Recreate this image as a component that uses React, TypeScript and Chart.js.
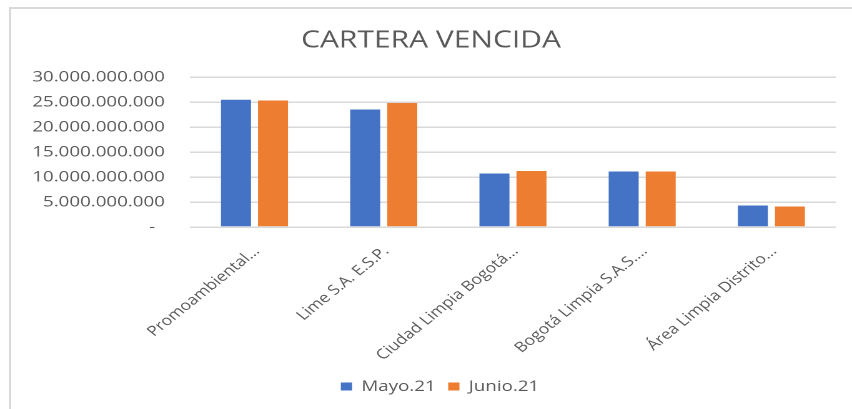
import React, { useEffect, useRef } from 'react';
import { Chart, registerables } from 'chart.js';

Chart.register(...registerables);

const chartTitle = 'CARTERA VENCIDA';
const categories = [
  'Promoambiental...',
  'Lime S.A. E.S.P.',
  'Ciudad Limpia Bogotá...',
  'Bogotá Limpia S.A.S....',
  'Área Limpia Distrito...',
];
const seriesNames = ['Mayo.21', 'Junio.21'];
const mayoValues = [25450000000, 23500000000, 10700000000, 11100000000, 4300000000];
const junioValues = [25300000000, 24800000000, 11200000000, 11100000000, 4100000000];
const yMin = 0;
const yMax = 30000000000;
const yStep = 5000000000;

const PAGE_W = 852;
const PAGE_H = 409;
const LOGICAL_W = 682;
const STRETCH = PAGE_W / LOGICAL_W;
const FONT = "'Open Sans', 'DejaVu Sans', sans-serif";
const TEXT = '#595959';

function formatTick(v: number): string {
  if (v === 0) return '-  ';
  return String(Math.round(v)).replace(/\B(?=(\d{3})+(?!\d))/g, '.');
}

const shiftBlocks = {
  id: 'shiftBlocks',
  afterLayout(chart: any) {
    const t = chart.titleBlock;
    if (t) {
      t.left += 10.4;
      t.right += 10.4;
    }
    const l = chart.legend;
    if (l) {
      l.left += 17.6;
      l.right += 17.6;
      l.top += 1.5;
      l.bottom += 1.5;
      if (l.adjustHitBoxes) l.adjustHitBoxes();
    }
  },
};

export default function App() {
  const ref = useRef<HTMLCanvasElement | null>(null);

  useEffect(() => {
    const canvas = ref.current;
    if (!canvas) return;
    const chart = new Chart(canvas, {
      type: 'bar',
      data: {
        labels: categories,
        datasets: [
          {
            label: seriesNames[0],
            data: mayoValues,
            backgroundColor: '#4472C4',
            categoryPercentage: 0.573,
            barPercentage: 0.81,
          },
          {
            label: seriesNames[1],
            data: junioValues,
            backgroundColor: '#ED7D31',
            categoryPercentage: 0.573,
            barPercentage: 0.81,
          },
        ],
      },
      options: {
        responsive: false,
        animation: false,
        devicePixelRatio: 2,
        layout: { padding: { left: 0, right: 12.8, top: 0, bottom: 6.5 } },
        plugins: {
          title: {
            display: true,
            text: chartTitle,
            color: TEXT,
            font: { family: FONT, size: 24, weight: 'normal' },
            padding: { top: 26.5, bottom: 21.7 },
          },
          legend: {
            position: 'bottom',
            labels: {
              color: TEXT,
              font: { family: FONT, size: 15 },
              boxWidth: 9,
              boxHeight: 8,
              padding: 10,
            },
          },
          tooltip: { enabled: false },
        },
        scales: {
          x: {
            grid: { display: false },
            border: { display: false },
            ticks: {
              color: TEXT,
              font: { family: FONT, size: 14 },
              minRotation: 45,
              maxRotation: 45,
              autoSkip: false,
              padding: 8,
              labelOffset: 2,
            },
            afterFit: (scale: any) => {
              scale.height = 140.5;
            },
          },
          y: {
            min: yMin,
            max: yMax,
            grid: { color: '#d9d9d9', lineWidth: 1.5, drawTicks: false },
            border: { display: false },
            ticks: {
              stepSize: yStep,
              color: TEXT,
              font: { family: FONT, size: 15 },
              padding: 20,
              callback: (v: any) => formatTick(Number(v)),
            },
            afterFit: (scale: any) => {
              scale.width = 152;
            },
          },
        },
      },
      plugins: [shiftBlocks],
    });
    return () => chart.destroy();
  }, []);

  return (
    <div
      style={{
        position: 'fixed',
        left: 0,
        top: 0,
        width: PAGE_W,
        height: PAGE_H,
        overflow: 'hidden',
        background: '#ffffff',
      }}
    >
      <canvas
        ref={ref}
        width={LOGICAL_W}
        height={PAGE_H}
        style={{
          display: 'block',
          width: LOGICAL_W,
          height: PAGE_H,
          transform: `scaleX(${STRETCH})`,
          transformOrigin: '0 0',
        }}
      />
      <div
        style={{
          position: 'absolute',
          left: 9,
          top: 7,
          width: PAGE_W,
          height: PAGE_H,
          borderTop: '2px solid #d9d9d9',
          borderLeft: '2px solid #d9d9d9',
          pointerEvents: 'none',
        }}
      />
    </div>
  );
}
